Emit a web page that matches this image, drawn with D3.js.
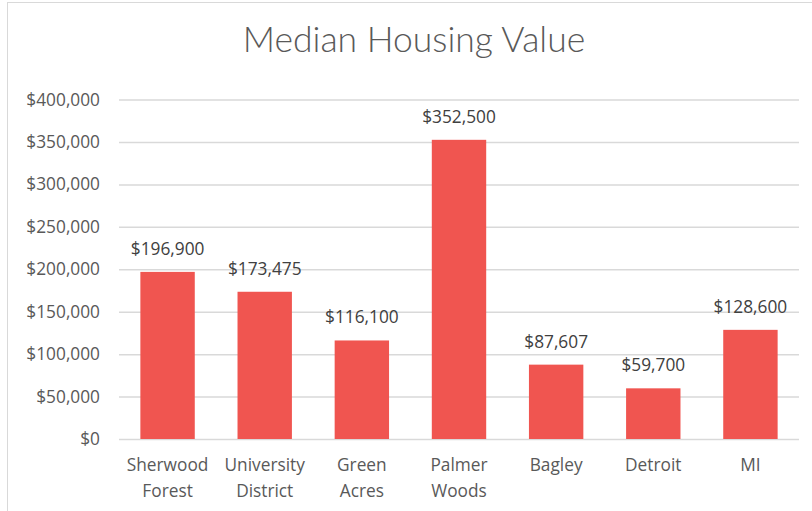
<!DOCTYPE html>
<html><head><meta charset="utf-8">
<script src="https://cdn.jsdelivr.net/npm/d3@7"></script>
<style>body{margin:0;background:#fff}</style>
</head><body>
<svg id="c" width="812" height="511"></svg>
<script>
const categories = [["Sherwood","Forest"],["University","District"],["Green","Acres"],["Palmer","Woods"],["Bagley"],["Detroit"],["MI"]];
const values = [196900, 173475, 116100, 352500, 87607, 59700, 128600];
const yTicks = [0,50000,100000,150000,200000,250000,300000,350000,400000];

const svg = d3.select("#c");
svg.append("rect").attr("x",7.5).attr("y",2.5).attr("width",820).attr("height",530)
  .attr("fill","#fff").attr("stroke","#d9d9d9");

const x = d3.scaleBand().domain(d3.range(values.length)).range([119,799]).paddingInner(0.44).paddingOuter(0.22);
const y = d3.scaleLinear().domain([0,400000]).range([439,99.5]);
const fmt = v => "$" + d3.format(",")(v);
const font = "'Open Sans', sans-serif";
const fs = 17.3;

svg.append("text").attr("x",414).attr("y",52).attr("text-anchor","middle")
  .attr("font-family","'Lato', sans-serif").attr("font-weight",300).attr("font-size",35.5)
  .attr("fill","#595959").text("Median Housing Value");

const ax = svg.append("g").attr("transform","translate(119,0)")
  .call(d3.axisLeft(y).tickValues(yTicks).tickFormat(fmt).tickSize(-680).tickPadding(19));
ax.select(".domain").remove();
ax.selectAll("line").attr("stroke","#d9d9d9").attr("stroke-width",1.5);
ax.selectAll("text").attr("font-family",font).attr("font-size",fs).attr("fill","#595959");

svg.selectAll(".bar").data(values).join("rect").attr("class","bar")
  .attr("x",(d,i)=>x(i)).attr("width",x.bandwidth())
  .attr("y",d=>y(d)).attr("height",d=>y(0)-y(d)).attr("fill","#F05550");

svg.selectAll(".vl").data(values).join("text").attr("class","vl")
  .attr("x",(d,i)=>x(i)+x.bandwidth()/2).attr("y",d=>y(d)-17)
  .attr("text-anchor","middle").attr("font-family",font).attr("font-size",fs).attr("fill","#404040")
  .text(fmt);

const cl = svg.selectAll(".cl").data(categories).join("text").attr("class","cl")
  .attr("x",(d,i)=>x(i)+x.bandwidth()/2).attr("y",471)
  .attr("text-anchor","middle").attr("font-family",font).attr("font-size",fs).attr("fill","#595959");
cl.selectAll("tspan").data(d=>d).join("tspan")
  .attr("x",function(){return this.parentNode.getAttribute("x");})
  .attr("dy",(d,i)=>i===0?0:26).text(d=>d);
</script>
</body></html>
